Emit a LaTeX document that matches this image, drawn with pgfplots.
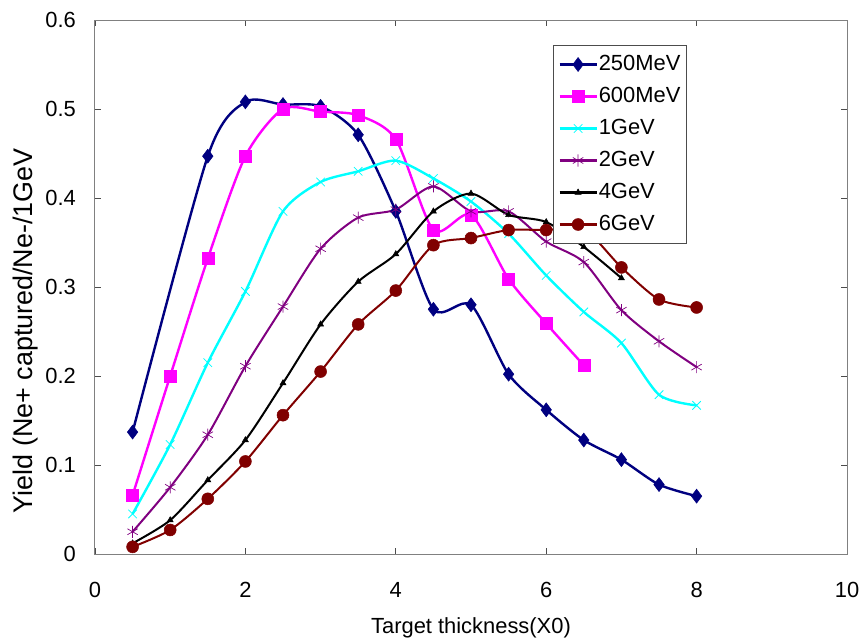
\documentclass[border=0pt]{standalone}
\usepackage{pgfplots}
\pgfplotsset{compat=1.18}
\usepackage{fontspec}
\setmainfont{Liberation Sans}
\definecolor{cNavy}{RGB}{0,0,128}
\definecolor{cMag}{RGB}{255,0,255}
\definecolor{cCyan}{RGB}{0,255,255}
\definecolor{cPurp}{RGB}{128,0,128}
\definecolor{cDRed}{RGB}{128,0,0}
\begin{document}
\begin{tikzpicture}
\useasboundingbox (-95bp,-88bp) rectangle (768bp,554bp);
\begin{axis}[
  scale only axis, width=752bp, height=534bp,
  xmin=0, xmax=10, ymin=0, ymax=0.6,
  xtick={0,2,4,6,8,10},
  ytick={0,0.1,0.2,0.3,0.4,0.5,0.6},
  yticklabels={0,0.1,0.2,0.3,0.4,0.5,0.6},
  tick align=inside, major tick length=6bp,
  tick style={black!70, line width=0.8bp},
  axis line style={gray, line width=1bp},
  /pgf/number format/assume math mode=true,
  ticklabel style={font=\fontsize{22}{26}\selectfont},
  yticklabel style={anchor=east, inner sep=0pt, xshift=-19bp},
  xticklabel style={yshift=-25bp},
  xlabel={Target thickness(X0)},
  ylabel={Yield (Ne+ captured/Ne-/1GeV},
  xlabel style={at={(axis description cs:0.5,-0.139)}, anchor=center, font=\fontsize{22}{26}\selectfont},
  ylabel style={at={(axis description cs:-0.092,0.418)}, anchor=center, font=\fontsize{27}{30}\selectfont},
  legend style={at={(rel axis cs:0.609,0.953)}, anchor=north west,
    draw=black!70, line width=0.8bp, fill=white, font=\fontsize{22}{26}\selectfont,
    nodes={inner sep=1bp, text height=16bp, text depth=5bp, font=\fontsize{22}{26}\selectfont},
    inner xsep=5bp, inner ysep=7.5bp, row sep=9bp,
    legend cell align=left},
  legend image code/.code={%
    \draw[mark repeat=2,mark phase=2,#1] plot coordinates {(0bp,0bp) (18.5bp,0bp) (37bp,0bp)};},
  every axis plot/.append style={smooth, tension=0.45},
]
\addplot[cNavy, line width=2.4bp, mark=diamond*, mark size=7bp, mark options={fill=cNavy, line width=0.5bp}] coordinates {
(0.5,0.137) (1.5,0.447) (2,0.508) (2.5,0.505) (3,0.503) (3.5,0.471) (4,0.385) (4.5,0.275) (5,0.280) (5.5,0.202) (6,0.162) (6.5,0.128) (7,0.106) (7.5,0.078) (8,0.065)};
\addlegendentry{250MeV\hspace{9bp}}
\addplot[cMag, line width=2.4bp, mark=square*, mark size=6bp, mark options={fill=cMag, line width=0.5bp}] coordinates {
(0.5,0.066) (1,0.200) (1.5,0.332) (2,0.447) (2.5,0.500) (3,0.497) (3.5,0.493) (4,0.466) (4.5,0.364) (5,0.381) (5.5,0.309) (6,0.259) (6.5,0.212)};
\addlegendentry{600MeV}
\addplot[cCyan, line width=2.4bp, mark=x, mark size=6bp, mark options={line width=0.8bp}] coordinates {
(0.5,0.045) (1,0.123) (1.5,0.215) (2,0.295) (2.5,0.385) (3,0.418) (3.5,0.430) (4,0.442) (4.5,0.422) (5,0.396) (5.5,0.360) (6,0.313) (6.5,0.272) (7,0.237) (7.5,0.179) (8,0.167)};
\addlegendentry{1GeV}
\addplot[cPurp, line width=2bp, mark=asterisk, mark size=6bp, mark options={line width=0.7bp}] coordinates {
(0.5,0.025) (1,0.075) (1.5,0.134) (2,0.211) (2.5,0.278) (3,0.343) (3.5,0.378) (4,0.387) (4.5,0.413) (5,0.385) (5.5,0.385) (6,0.351) (6.5,0.328) (7,0.274) (7.5,0.239) (8,0.210)};
\addlegendentry{2GeV}
\addplot[black, line width=2bp, mark=triangle*, mark size=3.5bp, mark options={fill=black, line width=0.5bp}] coordinates {
(0.5,0.012) (1,0.038) (1.5,0.083) (2,0.128) (2.5,0.192) (3,0.258) (3.5,0.306) (4,0.337) (4.5,0.385) (5,0.405) (5.5,0.381) (6,0.373) (6.5,0.345) (7,0.310)};
\addlegendentry{4GeV}
\addplot[cDRed, line width=2bp, mark=*, mark size=6bp, mark options={fill=cDRed, line width=0.5bp}] coordinates {
(0.5,0.008) (1,0.027) (1.5,0.062) (2,0.104) (2.5,0.156) (3,0.205) (3.5,0.258) (4,0.296) (4.5,0.347) (5,0.355) (5.5,0.364) (6,0.364) (6.5,0.365) (7,0.322) (7.5,0.286) (8,0.277)};
\addlegendentry{6GeV}
\end{axis}
\end{tikzpicture}
\end{document}
